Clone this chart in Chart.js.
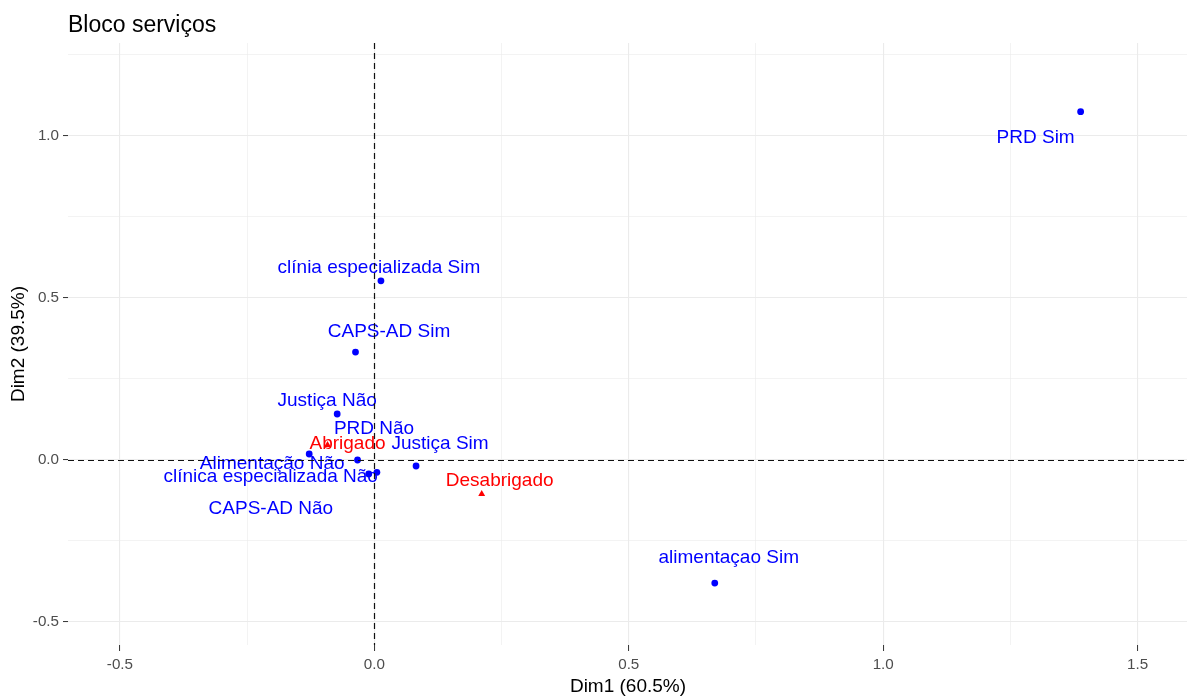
<!DOCTYPE html>
<html>
<head>
<meta charset="utf-8">
<script src="https://cdn.jsdelivr.net/npm/chart.js@4"></script>
<style>
html,body{margin:0;padding:0;background:#fff;overflow:hidden;}
#wrap{width:1192px;height:698px;position:relative;}
</style>
</head>
<body>
<div id="wrap"><canvas id="c"></canvas></div>
<script>
// ---- data ----
const chartTitle = "Bloco serviços";
const xTitle = "Dim1 (60.5%)";
const yTitle = "Dim2 (39.5%)";

const varLabels = ["PRD Sim","clínia especializada Sim","CAPS-AD Sim","Justiça Não","PRD Não","Justiça Sim","Alimentação Não","clínica especializada Não","CAPS-AD Não","alimentaçao Sim"];
const varDim1 = [1.388, 0.013, -0.037, -0.073, -0.033, 0.082, -0.128, -0.011, 0.005, 0.669];
const varDim2 = [1.075, 0.553, 0.333, 0.142, 0.000, -0.0185, 0.0185, -0.043, -0.038, -0.380];

const groupLabels = ["Abrigado","Desabrigado"];
const groupDim1 = [-0.092, 0.211];
const groupDim2 = [0.046, -0.105];

const xTickValues = [-0.5, -0.25, 0, 0.25, 0.5, 0.75, 1.0, 1.25, 1.5];
const yTickValues = [-0.5, -0.25, 0, 0.25, 0.5, 0.75, 1.0, 1.25];
const xMajorLabels = {"-0.5":"-0.5","0":"0.0","0.5":"0.5","1":"1.0","1.5":"1.5"};
const yMajorLabels = {"-0.5":"-0.5","0":"0.0","0.5":"0.5","1":"1.0"};

// ---- chart ----
const FONT = "'Liberation Sans', Arial, sans-serif";
const isMajor = v => Math.abs(v*2 - Math.round(v*2)) < 1e-6;

const labelPlugin = {
  id: 'pointLabels',
  afterDatasetsDraw(chart, args, opts) {
    const ctx = chart.ctx;
    ctx.save();
    ctx.font = "19px " + FONT;
    ctx.textAlign = 'center';
    ctx.textBaseline = 'middle';
    chart.data.datasets.forEach((ds, di) => {
      const meta = chart.getDatasetMeta(di);
      const nudges = opts.nudges[di];
      ctx.fillStyle = ds.labelColor;
      meta.data.forEach((el, i) => {
        const n = nudges[i] || [0,0];
        ctx.fillText(ds.labels[i], el.x + n[0], el.y + n[1]);
      });
    });
    // dashed reference lines at 0
    const xs = chart.scales.x, ys = chart.scales.y, a = chart.chartArea;
    ctx.strokeStyle = '#111';
    ctx.lineWidth = 1.2;
    ctx.setLineDash([6,4]);
    const x0 = Math.round(xs.getPixelForValue(0)) + 0.5;
    const y0 = Math.round(ys.getPixelForValue(0)) + 0.5;
    ctx.beginPath(); ctx.moveTo(x0, a.top); ctx.lineTo(x0, a.bottom); ctx.stroke();
    ctx.beginPath(); ctx.moveTo(a.left, y0); ctx.lineTo(a.right, y0); ctx.stroke();
    ctx.restore();
  }
};

const titlePlugin = {
  id: 'customTitle',
  afterDraw(chart) {
    const ctx = chart.ctx;
    ctx.save();
    ctx.font = "23px " + FONT;
    ctx.fillStyle = '#000';
    ctx.textAlign = 'left';
    ctx.textBaseline = 'alphabetic';
    ctx.fillText(chartTitle, chart.chartArea.left, 32);
    ctx.restore();
  }
};

const gridColor = c => (c.tick && xTickValues.concat(yTickValues).some(v => Math.abs(v - c.tick.value) < 1e-6)) ? '#EBEBEB' : 'transparent';

new Chart(document.getElementById('c'), {
  type: 'scatter',
  data: {
    datasets: [
      {
        labels: varLabels,
        labelColor: '#0000FF',
        data: varDim1.map((x, i) => ({x: x, y: varDim2[i]})),
        backgroundColor: '#0000FF',
        borderColor: '#0000FF',
        pointStyle: 'circle',
        pointRadius: 3.4,
        borderWidth: 0
      },
      {
        labels: groupLabels,
        labelColor: '#FF0000',
        data: groupDim1.map((x, i) => ({x: x, y: groupDim2[i]})),
        backgroundColor: '#FF0000',
        borderColor: '#FF0000',
        pointStyle: 'triangle',
        pointRadius: 4,
        borderWidth: 0
      }
    ]
  },
  options: {
    responsive: true,
    maintainAspectRatio: false,
    animation: false,
    layout: {padding: {top: 43, left: 0, right: 0, bottom: 0}},
    plugins: {
      legend: {display: false},
      tooltip: {enabled: false},
      pointLabels: {
        nudges: [
          [[-45,26],[-2,-13],[33.5,-20],[-10,-13],[16.5,-31],[24,-22],[-37,10],[-98,3],[-106,36],[14,-25]],
          [[20,-1],[18,-13]]
        ]
      }
    },
    scales: {
      x: {
        type: 'linear',
        min: -0.602, max: 1.599,
        afterBuildTicks: s => { s.ticks = xTickValues.map(v => ({value: v})); },
        afterFit: s => { s.height = 53; s.paddingLeft = 0; s.paddingRight = 0; },
        border: {display: false},
        grid: {
          color: gridColor,
          lineWidth: c => (c.tick && isMajor(c.tick.value)) ? 1.1 : 0.6,
          tickColor: c => (c.tick && isMajor(c.tick.value)) ? '#333333' : 'transparent',
          tickWidth: 1,
          tickLength: 6,
          drawTicks: true
        },
        ticks: {
          autoSkip: false,
          maxRotation: 0,
          padding: 5,
          color: '#4D4D4D',
          font: {family: FONT, size: 15.2},
          callback: v => { const k = String(Math.round(v*100)/100); return xMajorLabels[k] !== undefined ? xMajorLabels[k] : ''; }
        },
        title: {display: true, text: xTitle, color: '#000', font: {family: FONT, size: 19}, padding: {top: 1, bottom: 0}}
      },
      y: {
        type: 'linear',
        min: -0.571, max: 1.287,
        afterBuildTicks: s => { s.ticks = yTickValues.map(v => ({value: v})); },
        afterFit: s => { s.width = 68; s.paddingTop = 0; s.paddingBottom = 0; },
        border: {display: false},
        grid: {
          color: gridColor,
          lineWidth: c => (c.tick && isMajor(c.tick.value)) ? 1.1 : 0.6,
          tickColor: c => (c.tick && isMajor(c.tick.value)) ? '#333333' : 'transparent',
          tickWidth: 1,
          tickLength: 5,
          drawTicks: true
        },
        ticks: {
          autoSkip: false,
          padding: 4,
          color: '#4D4D4D',
          font: {family: FONT, size: 15.2},
          callback: v => { const k = String(Math.round(v*100)/100); return yMajorLabels[k] !== undefined ? yMajorLabels[k] : ''; }
        },
        title: {display: true, text: yTitle, color: '#000', font: {family: FONT, size: 19}, padding: {top: 7, bottom: 0}}
      }
    }
  },
  plugins: [labelPlugin, titlePlugin]
});
</script>
</body>
</html>
